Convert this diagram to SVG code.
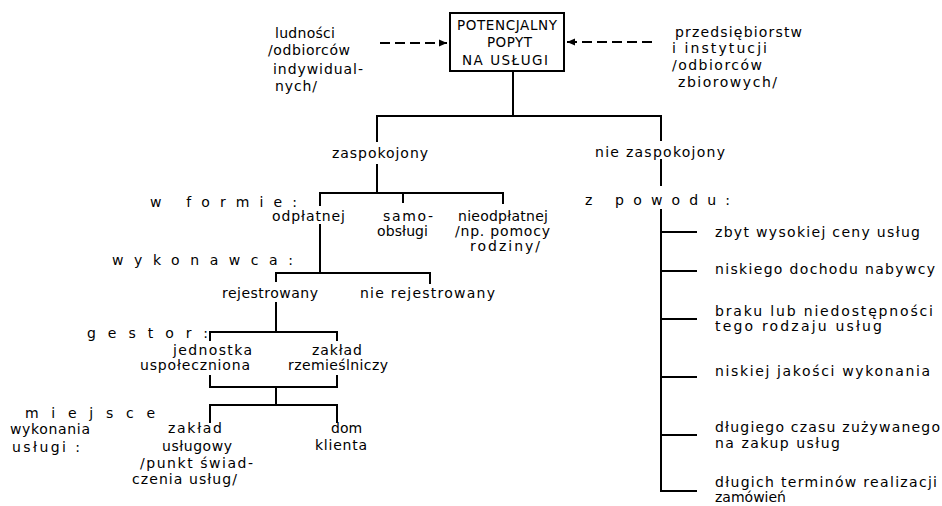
<svg xmlns="http://www.w3.org/2000/svg" width="942" height="506" viewBox="0 0 942 506">
<style>
.t{font-family:"DejaVu Sans","Liberation Sans",sans-serif;font-size:14px;fill:#000}
.c{font-family:"DejaVu Sans","Liberation Sans",sans-serif;font-size:13.5px;fill:#000}
.ln{stroke:#000;stroke-width:2;fill:none;stroke-linecap:square}
.ds{stroke:#000;stroke-width:2;fill:none;stroke-dasharray:10 5}
.box{stroke:#000;stroke-width:2;fill:#fff}
</style>
<defs>
<marker id="arr" markerUnits="userSpaceOnUse" markerWidth="9" markerHeight="8" refX="8" refY="4" orient="auto">
<path d="M0,0.5 L8,4 L0,7.5 z" fill="#000"/>
</marker>
</defs>
<rect width="942" height="506" fill="#fff"/>
<g id="connectors">
<path class="ds" d="M380,43 H447" marker-end="url(#arr)"/>
<path class="ds" d="M652,42 H567" marker-end="url(#arr)"/>
<path class="ln" d="M513,72 V116 M377,116 H661 M377,116 V141 M377,165 V193 M661,116 V140 M661,160 V185 M661,210 V491"/>
<path class="ln" d="M320,205 V193 H503 V203 M403,193 V202"/>
<path class="ln" d="M320,225 V273 M276,281 V273 H430 V283"/>
<path class="ln" d="M276,303 V332 M210,340 V332 H337 V340"/>
<path class="ln" d="M210,376 V387 H337 V376 M276,387 V405 M210,422 V405 H337 V422"/>
<path class="ln" d="M661,232 H696 M661,271 H696 M661,319 H696 M661,377 H696 M661,435 H696 M661,491 H696"/>
</g>
<g id="potencjalny-popyt">
<rect class="box" x="450" y="13" width="114" height="58"/>
<text class="c" x="457" y="30" textLength="100">POTENCJALNY</text>
<text class="c" x="487" y="47" textLength="45">POPYT</text>
<text class="c" x="462" y="65" textLength="86">NA USŁUGI</text>
</g>
<g id="ludnosci">
<text class="t" x="275" y="38" textLength="60">ludności</text>
<text class="t" x="268" y="55" textLength="82">/odbiorców</text>
<text class="t" x="273" y="74" textLength="90">indywidual-</text>
<text class="t" x="275" y="91" textLength="42">nych/</text>
</g>
<g id="przedsiebiorstw">
<text class="t" x="675" y="37" textLength="127">przedsiębiorstw</text>
<text class="t" x="672" y="53" textLength="95">i instytucji</text>
<text class="t" x="672" y="70" textLength="90">/odbiorców</text>
<text class="t" x="678" y="87" textLength="99">zbiorowych/</text>
</g>
<g id="zaspokojony">
<text class="t" x="332" y="158" textLength="96">zaspokojony</text>
</g>
<g id="nie-zaspokojony">
<text class="t" x="595" y="157" textLength="130">nie zaspokojony</text>
</g>
<g id="w-formie">
<text class="t" x="150" y="207" textLength="147">w formie:</text>
</g>
<g id="odplatnej">
<text class="t" x="272" y="221" textLength="73">odpłatnej</text>
</g>
<g id="samoobslugi">
<text class="t" x="383" y="221" textLength="50">samo-</text>
<text class="t" x="377" y="236" textLength="51">obsługi</text>
</g>
<g id="nieodplatnej">
<text class="t" x="458" y="221" textLength="90">nieodpłatnej</text>
<text class="t" x="455" y="236" textLength="95">/np. pomocy</text>
<text class="t" x="470" y="251" textLength="70">rodziny/</text>
</g>
<g id="wykonawca">
<text class="t" x="112" y="265" textLength="181">wykonawca:</text>
</g>
<g id="rejestrowany">
<text class="t" x="222" y="298" textLength="96">rejestrowany</text>
</g>
<g id="nie-rejestrowany">
<text class="t" x="360" y="298" textLength="135">nie rejestrowany</text>
</g>
<g id="gestor">
<text class="t" x="87" y="338" textLength="121">gestor:</text>
</g>
<g id="jednostka">
<text class="t" x="173" y="355" textLength="79">jednostka</text>
<text class="t" x="140" y="370" textLength="110">uspołeczniona</text>
</g>
<g id="zaklad-rzemieslniczy">
<text class="t" x="312" y="355" textLength="50">zakład</text>
<text class="t" x="288" y="370" textLength="100">rzemieślniczy</text>
</g>
<g id="miejsce">
<text class="t" x="25" y="418" textLength="130">miejsce</text>
<text class="t" x="10" y="434" textLength="80">wykonania</text>
<text class="t" x="12" y="452" textLength="68">usługi :</text>
</g>
<g id="zaklad-uslugowy">
<text class="t" x="168" y="433" textLength="54">zakład</text>
<text class="t" x="162" y="451" textLength="70">usługowy</text>
<text class="t" x="140" y="468" textLength="113">/punkt świad-</text>
<text class="t" x="132" y="484" textLength="105">czenia usług/</text>
</g>
<g id="dom-klienta">
<text class="t" x="331" y="433">dom</text>
<text class="t" x="315" y="450" textLength="52">klienta</text>
</g>
<g id="z-powodu">
<text class="t" x="585" y="205" textLength="145">z powodu:</text>
</g>
<g id="powod-1">
<text class="t" x="715" y="237" textLength="205">zbyt wysokiej ceny usług</text>
</g>
<g id="powod-2">
<text class="t" x="715" y="274" textLength="220">niskiego dochodu nabywcy</text>
</g>
<g id="powod-3">
<text class="t" x="715" y="316" textLength="218">braku lub niedostępności</text>
<text class="t" x="715" y="331" textLength="167">tego rodzaju usług</text>
</g>
<g id="powod-4">
<text class="t" x="715" y="376" textLength="215">niskiej jakości wykonania</text>
</g>
<g id="powod-5">
<text class="t" x="715" y="432" textLength="225">długiego czasu zużywanego</text>
<text class="t" x="715" y="448" textLength="125">na zakup usług</text>
</g>
<g id="powod-6">
<text class="t" x="715" y="487" textLength="222">długich terminów realizacji</text>
<text class="t" x="715" y="502">zamówień</text>
</g>
</svg>
